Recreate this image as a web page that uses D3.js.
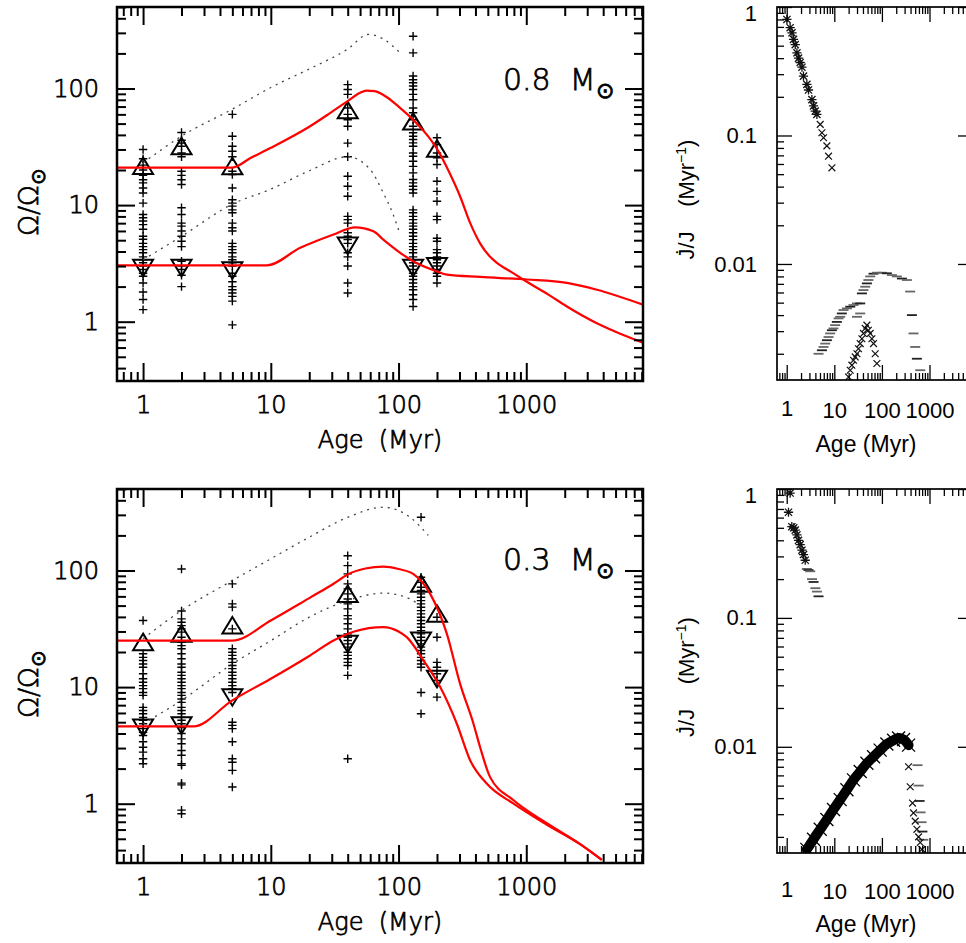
<!DOCTYPE html>
<html>
<head>
<meta charset="utf-8">
<script src="https://cdn.jsdelivr.net/npm/d3@7"></script>
<style>
  body { margin: 0; background: #fff; }
  .thin { stroke: #000; stroke-width: 0.75px; fill: #000; white-space: pre; }
</style>
</head>
<body>
<script>
/// data ///
// cluster ages (Myr) and observed rotation rates (Omega / Omega_sun), 0.8 Msun
const clusterAges08 = [1, 2, 5, 40, 130, 200];
const spins08 = [
  [30, 25, 22, 20, 18, 16.5, 15.5, 14, 12.7, 10.4, 8.3, 7.8, 7.3, 6.8, 6.2, 5.4, 5.1, 4.7, 4.4, 4.15, 3.9, 3.6, 3.4, 3.2, 3.0, 2.8, 2.6, 2.45, 2.15, 1.8, 1.55, 1.27],
  [42, 36, 34, 32, 28, 26, 19.5, 18, 16.5, 15, 9.5, 8.3, 7.0, 6.6, 6.0, 5.4, 4.9, 4.4, 3.3, 3.0, 2.8, 2.5, 2.0],
  [60, 39, 32, 29, 26, 19.5, 18.3, 14, 11.1, 10.4, 9.8, 9.1, 8.6, 7.0, 6.4, 6.0, 4.7, 4.4, 4.15, 3.9, 3.6, 3.4, 3.2, 3.0, 2.6, 2.45, 2.2, 2.0, 1.88, 1.76, 1.65, 1.5, 0.94],
  [108, 98, 89, 68, 60, 54, 47.5, 34, 26, 17.7, 14.5, 11.9, 8.0, 7.5, 7.0, 5.8, 5.4, 5.06, 4.7, 3.9, 3.6, 3.0, 2.15, 1.76],
  [281, 202, 128, 119, 112, 105, 98, 89, 80, 68, 62, 54, 47.5, 41.7, 39, 36.5, 34.2, 32, 28, 26.2, 23.8, 21.5, 18.9, 16.6, 15.5, 14.5, 13.6, 12.7, 9.1, 8.6, 8.0, 7.5, 7.0, 6.6, 6.2, 5.8, 5.4, 5.06, 4.7, 4.4, 4.15, 3.9, 3.6, 3.4, 3.2, 3.0, 2.8, 2.6, 2.45, 2.3, 2.15, 2.0, 1.88, 1.7, 1.55, 1.35],
  [37.8, 33, 28, 25.4, 22.3, 16, 13.1, 10.8, 8.0, 7.5, 5.2, 4.9, 4.15, 3.9, 3.6, 3.4, 3.2, 3.0, 2.8, 2.6, 2.45, 2.15]
];
const p90_08 = [21.6, 32, 21.5, 65, 52, 30.5];
const p25_08 = [2.9, 2.9, 2.76, 4.5, 2.9, 3.0];

// model curves 0.8 Msun
const fastAge08 = [0.625, 5, 7, 10, 20, 30, 40, 50, 56, 65, 80, 100, 130, 170, 205, 250, 303, 364, 435, 521, 589, 795, 1011, 1500, 2080, 3570, 5000, 8200];
const fastOm08 = [21, 21, 25.5, 31, 47, 63, 78, 92, 96, 95, 85, 70, 54, 39, 29, 19, 11.9, 7.0, 4.7, 3.6, 3.2, 2.6, 2.2, 1.7, 1.35, 0.97, 0.82, 0.66];
const slowAge08 = [0.625, 9.3, 17, 31, 45.7, 63.6, 76, 103, 130, 200, 239, 435, 1011, 2080, 3570, 8200];
const slowOm08 = [3.04, 3.04, 4.3, 5.6, 6.45, 5.96, 5.06, 3.9, 3.3, 2.7, 2.53, 2.42, 2.3, 2.15, 1.88, 1.4];
const coreFastAge08 = [1, 2, 5, 10, 20, 40, 58, 76, 103];
const coreFastOm08 = [23, 39, 66.5, 102, 147, 218, 291, 266, 202];
const coreSlowAge08 = [1, 2, 5, 10, 20, 40, 60, 76, 90, 103];
const coreSlowOm08 = [3.4, 5.4, 10.2, 13.7, 19.7, 26, 20.2, 12.7, 8.5, 5.6];

// 0.3 Msun
const clusterAges03 = [1, 2, 5, 40, 150, 200];
const spins03 = [
  [37.2, 19.3, 18, 16.9, 15.8, 14.8, 13, 11.8, 11, 10.3, 9.7, 9.0, 8.5, 6.7, 6.3, 5.9, 5.5, 5.2, 4.85, 4.4, 4.1, 3.85, 3.4, 3.05, 2.77, 2.43, 2.2],
  [103, 45, 38.5, 36, 33.7, 31.6, 29.6, 26.8, 24.3, 22.7, 21.3, 19.3, 17.5, 15.8, 14.8, 13.4, 12.6, 11.8, 11, 10.3, 9.7, 9.0, 8.5, 7.9, 7.4, 6.7, 6.3, 5.9, 5.5, 5.2, 4.85, 4.5, 4.0, 3.6, 3.27, 2.86, 2.6, 2.2, 2.13, 1.5, 1.45, 0.88, 0.82],
  [76.8, 51.7, 48.5, 31.6, 21.3, 19.9, 18.7, 17.5, 16.3, 15.3, 14.4, 13.4, 12.6, 11.8, 11, 10.3, 9.7, 9.0, 5.0, 4.7, 4.4, 3.4, 2.43, 2.27, 1.93, 1.39],
  [134, 110, 93.6, 76.8, 69.5, 63, 57, 51.7, 46.9, 41, 38.5, 34.9, 31.6, 28.6, 26.8, 25.1, 23.5, 22, 19.9, 18.7, 17.5, 16.3, 15.3, 12.6, 2.43],
  [286, 87.5, 79.3, 71.8, 67.3, 63, 59, 55.2, 51.7, 48.4, 45.3, 42.5, 39.7, 37.2, 34.9, 32.6, 30.5, 28.6, 26.8, 25.1, 23.5, 22, 20.6, 19.3, 18, 16.9, 15.8, 14.8, 9.0, 5.9],
  [39.7, 26.8, 16.3, 14.8, 13, 11.4, 8.2]
];
const p90_03 = [24.3, 28.7, 33.8, 63, 76.8, 42.5];
const p25_03 = [4.5, 4.7, 8.2, 23.5, 25.1, 11.8];

const fastAge03 = [0.625, 5, 10, 20, 31, 40, 55, 76, 100, 130, 177, 239, 303, 386, 435, 521, 795, 1450, 2640, 3900];
const fastOm03 = [25, 25, 37.3, 58, 77, 92.5, 104, 108, 103, 93.6, 63, 28.6, 10.7, 4.85, 3.05, 1.69, 1.07, 0.68, 0.45, 0.33];
const slowAge03 = [0.625, 2.48, 5, 10, 20, 31, 45, 76, 100, 116, 157, 212, 286, 364, 492, 795, 1450, 2640, 3900];
const slowOm03 = [4.6, 4.6, 7.7, 11.8, 18.5, 25.1, 30, 32.7, 30, 26.8, 16.9, 10, 4.85, 2.35, 1.48, 1.0, 0.66, 0.45, 0.33];
const coreFastAge03 = [1, 2, 5, 10, 20, 40, 76, 123, 171];
const coreFastOm03 = [26, 45.4, 82, 126, 193, 286, 349, 286, 200];
const coreSlowAge03 = [1, 2, 5, 10, 20, 40, 76, 123, 147];
const coreSlowOm03 = [4.85, 7.7, 15.8, 25, 39.8, 55.3, 64, 57, 50];

// angular momentum loss rate J-dot/J (Myr^-1), 0.8 Msun
const jStarAge08 = [1.01, 1.18, 1.29, 1.39, 1.51, 1.64, 1.77, 1.92, 2.09, 2.25, 2.65, 2.87, 3.38, 3.66, 3.97, 4.31];
const jStarVal08 = [0.80, 0.69, 0.63, 0.56, 0.51, 0.44, 0.40, 0.37, 0.34, 0.29, 0.25, 0.226, 0.19, 0.17, 0.155, 0.146];
const jCrossAge08 = [5.06, 5.49, 5.94, 6.98, 7.56, 8.92, 19.9, 21.6, 23.4, 25.3, 27.5, 29.9, 32.2, 35, 38, 41, 44.6, 48.4, 52, 56.8, 61.6, 66.7, 72.3, 78.5];
const jCrossVal08 = [0.122, 0.105, 0.096, 0.083, 0.069, 0.056, 0.00132, 0.00149, 0.00163, 0.00178, 0.00189, 0.0020, 0.00219, 0.0024, 0.00262, 0.00288, 0.00315, 0.00334, 0.00305, 0.00288, 0.00262, 0.0024, 0.0020, 0.00168];
const jDashAge08 = [4.66, 5.49, 5.93, 6.44, 6.98, 7.57, 8.2, 8.9, 9.6, 10.4, 11.3, 12.3, 13.3, 14.4, 15.6, 18.4, 21.6, 25.3, 29.9, 35, 29.9, 35, 38, 41, 44.6, 48.4, 52, 56.8, 66.7, 78.5, 100, 127, 162, 206, 263, 335, 393, 427, 461, 501, 543, 638];
const jDashVal08 = [0.0020, 0.00213, 0.00226, 0.0024, 0.00255, 0.0027, 0.00288, 0.00305, 0.00315, 0.00334, 0.00354, 0.00377, 0.00388, 0.00412, 0.00438, 0.00451, 0.00465, 0.00479, 0.00493, 0.00493, 0.00388, 0.00412, 0.0059, 0.00626, 0.00665, 0.00706, 0.0075, 0.008, 0.0084, 0.00855, 0.00855, 0.00846, 0.0082, 0.008, 0.0077, 0.0075, 0.0061, 0.0040, 0.00288, 0.00226, 0.00183, 0.00149];

// 0.3 Msun
const jStarAge03 = [1.18, 1.09, 1.28, 1.4, 1.51, 1.64, 1.77, 1.92, 2.09, 2.25, 2.45];
const jStarVal03 = [0.93, 0.66, 0.51, 0.5, 0.48, 0.44, 0.40, 0.37, 0.335, 0.31, 0.28];
const jDashAge03 = [2.65, 2.87, 3.12, 3.4, 3.66, 4.0, 4.31, 4.66, 560, 590, 620, 650, 680, 710, 740];
const jDashVal03 = [0.24, 0.235, 0.23, 0.2, 0.19, 0.17, 0.16, 0.147, 0.0072, 0.0050, 0.0038, 0.0031, 0.0026, 0.0022, 0.0019];
const jBandAge03 = [2.65, 3.66, 5.06, 6.98, 9.6, 13.3, 18.4, 25.3, 35, 48.4, 66.7, 92, 127, 176, 224, 285, 363];
const jBandVal03 = [0.0016, 0.00192, 0.00229, 0.00273, 0.00326, 0.00389, 0.00464, 0.00554, 0.00643, 0.00745, 0.00838, 0.00942, 0.0105, 0.01125, 0.0117, 0.0114, 0.0103];
const jCrossAge03 = [363, 393, 440, 461, 501, 543, 589, 638, 692];
const jCrossVal03 = [0.0070, 0.0049, 0.00366, 0.00307, 0.00265, 0.00229, 0.0020, 0.00181, 0.0016];

/// constants ///
const ageDomain = [0.625, 8200];
const omegaDomain = [0.31, 500];
const leftFont = "'DejaVu Sans', sans-serif";
const leftWeight = 200;
const rightFont = "'Liberation Sans', Arial, sans-serif";
const red = "#ff0000";

const svg = d3.select("body").append("svg")
  .attr("width", 966).attr("height", 943);

const isMajor = v => Math.abs(Math.log10(v) - Math.round(Math.log10(v))) < 1e-6;

// draw ticks on all four sides, pointing inwards, labels on bottom and left
function drawFrame(g, x, y, o) {
  const [xa, xb] = x.range();
  const [yb, ya] = y.range();
  const xt = x.ticks(), yt = y.ticks();
  const sides = [
    [d3.axisBottom, x, `translate(0,${yb})`, xt, true, o.xPad],
    [d3.axisTop, x, `translate(0,${ya})`, xt, false, 0],
    [d3.axisLeft, y, `translate(${xa},0)`, yt, true, o.yPad],
    [d3.axisRight, y, `translate(${xb},0)`, yt, false, 0]
  ];
  sides.forEach(([make, sc, tr, vals, labelled, pad]) => {
    // minor
    g.append("g").attr("transform", tr)
      .call(make(sc).tickValues(vals.filter(v => !isMajor(v))).tickSize(-o.minor).tickFormat(""))
      .call(a => a.select(".domain").remove())
      .call(a => a.selectAll("line").attr("stroke", "#000").attr("stroke-width", o.tickW));
    // major
    g.append("g").attr("transform", tr)
      .call(make(sc).tickValues(vals.filter(isMajor)).tickSize(-o.major).tickPadding(pad)
        .tickFormat(labelled ? (d => String(+d.toPrecision(3))) : ""))
      .call(a => a.select(".domain").remove())
      .call(a => a.selectAll("line").attr("stroke", "#000").attr("stroke-width", o.tickW))
      .call(a => a.selectAll("text")
        .attr("fill", "#000")
        .attr("class", o.cls)
        .attr("font-family", o.font)
        .attr("font-weight", o.weight)
        .attr("font-size", o.fontSize));
  });
  g.append("rect")
    .attr("x", xa).attr("y", ya)
    .attr("width", xb - xa).attr("height", yb - ya)
    .attr("fill", "none").attr("stroke", "#000").attr("stroke-width", o.frameW);
}

function plusPath(px, py, s) {
  return `M${px - s},${py}H${px + s}M${px},${py - s}V${py + s}`;
}
function crossPath(px, py, s) {
  return `M${px - s},${py - s}L${px + s},${py + s}M${px - s},${py + s}L${px + s},${py - s}`;
}

/// left panels: Omega / Omega_sun vs age ///
function omegaPanel(top, bottom, ages, spins, p90, p25, curves, dotted, massLabel, labelY) {
  const x = d3.scaleLog().domain(ageDomain).range([117, 643]);
  const y = d3.scaleLog().domain(omegaDomain).range([bottom, top]);
  const g = svg.append("g");

  // observed cluster stars
  const pts = [];
  ages.forEach((a, i) => spins[i].forEach(v => pts.push([a, v])));
  g.append("g").selectAll("path").data(pts).join("path")
    .attr("d", d => plusPath(x(d[0]), y(d[1]), 4.2))
    .attr("stroke", "#000").attr("stroke-width", 1.4).attr("fill", "none");

  // percentile triangles
  g.append("g").selectAll("path").data(ages.map((a, i) => [a, p90[i]])).join("path")
    .attr("d", d => {
      const px = x(d[0]), py = y(d[1]);
      return `M${px},${py - 8.5}L${px + 10},${py + 8}L${px - 10},${py + 8}Z`;
    })
    .attr("fill", "none").attr("stroke", "#000").attr("stroke-width", 2);
  g.append("g").selectAll("path").data(ages.map((a, i) => [a, p25[i]])).join("path")
    .attr("d", d => {
      const px = x(d[0]), py = y(d[1]);
      return `M${px - 10},${py - 8}L${px + 10},${py - 8}L${px},${py + 8.5}Z`;
    })
    .attr("fill", "none").attr("stroke", "#000").attr("stroke-width", 2);

  const line = d3.line().x(d => x(d[0])).y(d => y(d[1])).curve(d3.curveMonotoneX);
  const clip = "clip" + top;
  svg.append("clipPath").attr("id", clip).append("rect")
    .attr("x", 117).attr("y", top).attr("width", 526).attr("height", bottom - top);

  dotted.forEach(([ag, om]) => {
    g.append("path").datum(ag.map((a, i) => [a, om[i]]))
      .attr("d", line)
      .attr("fill", "none").attr("stroke", "#444").attr("stroke-width", 1.3)
      .attr("stroke-dasharray", "2 5");
  });
  curves.forEach(([ag, om]) => {
    g.append("path").datum(ag.map((a, i) => [a, om[i]]))
      .attr("d", line).attr("clip-path", `url(#${clip})`)
      .attr("fill", "none").attr("stroke", red).attr("stroke-width", 2.2);
  });

  drawFrame(g, x, y, { minor: 9, major: 18, tickW: 2, frameW: 2.5, font: leftFont, weight: leftWeight, cls: "thin", fontSize: 24, xPad: 15, yPad: 18 });

  // axis titles
  g.append("text").attr("class", "thin")
    .attr("x", 380).attr("y", bottom + 67)
    .attr("text-anchor", "middle")
    .attr("font-family", leftFont).attr("font-weight", leftWeight).attr("font-size", 24)
    .text("Age  (Myr)");
  const yl = g.append("text").attr("class", "thin")
    .attr("transform", `translate(38,${(top + bottom) / 2 + 8}) rotate(-90)`)
    .attr("text-anchor", "middle")
    .attr("font-family", leftFont).attr("font-weight", leftWeight).attr("font-size", 27);
  yl.append("tspan").text("Ω/Ω");
  yl.append("tspan").attr("dy", 7).attr("font-size", 20).text("⊙");

  // mass label
  const ml = g.append("text").attr("class", "thin")
    .attr("x", 503).attr("y", labelY)
    .attr("font-family", leftFont).attr("font-weight", leftWeight).attr("font-size", 30);
  ml.append("tspan").text(massLabel + "  M");
  ml.append("tspan").attr("dy", 8).attr("font-size", 22).text("⊙");
}

omegaPanel(7, 381, clusterAges08, spins08, p90_08, p25_08,
  [[fastAge08, fastOm08], [slowAge08, slowOm08]],
  [[coreFastAge08, coreFastOm08], [coreSlowAge08, coreSlowOm08]], "0.8", 90);
omegaPanel(489, 863, clusterAges03, spins03, p90_03, p25_03,
  [[fastAge03, fastOm03], [slowAge03, slowOm03]],
  [[coreFastAge03, coreFastOm03], [coreSlowAge03, coreSlowOm03]], "0.3", 570);

/// right panels: J-dot / J vs age (cut by the page edge) ///
function jdotPanel(top, bottom, yDomain, series, xPad, ageY) {
  const x = d3.scaleLog().domain(ageDomain).range([777, 973]);
  const y = d3.scaleLog().domain(yDomain).range([bottom, top]);
  const g = svg.append("g");
  const clip = "jclip" + top;
  svg.append("clipPath").attr("id", clip).append("rect")
    .attr("x", 777).attr("y", top).attr("width", 196).attr("height", bottom - top);
  const body = g.append("g").attr("clip-path", `url(#${clip})`);

  if (series.band) {
    const [ag, vv] = series.band;
    const pts = ag.map((a, i) => [a, vv[i]]);
    body.append("path").datum(pts)
      .attr("d", d3.line().x(d => x(d[0])).y(d => y(d[1])).curve(d3.curveMonotoneX))
      .attr("fill", "none").attr("stroke", "#000").attr("stroke-width", 10)
      .attr("stroke-linecap", "round");
    body.append("g").selectAll("path").data(pts).join("path")
      .attr("d", d => crossPath(x(d[0]), y(d[1]), 6.5))
      .attr("stroke", "#000").attr("stroke-width", 1.3);
  }
  if (series.dash) {
    const [ag, vv] = series.dash;
    body.append("g").selectAll("path").data(ag.map((a, i) => [a, vv[i]])).join("path")
      .attr("d", d => `M${x(d[0]) - 5},${y(d[1])}H${x(d[0]) + 5}`)
      .attr("stroke", (d, i) => i % 3 === 1 ? "#222" : "#666").attr("stroke-width", 1.8);
  }
  if (series.star) {
    const [ag, vv] = series.star;
    body.append("g").selectAll("path").data(ag.map((a, i) => [a, vv[i]])).join("path")
      .attr("d", d => crossPath(x(d[0]), y(d[1]), 3.6) + plusPath(x(d[0]), y(d[1]), 4.6))
      .attr("stroke", "#111").attr("stroke-width", 1.3).attr("fill", "none");
  }
  if (series.cross) {
    const [ag, vv] = series.cross;
    body.append("g").selectAll("path").data(ag.map((a, i) => [a, vv[i]])).join("path")
      .attr("d", d => crossPath(x(d[0]), y(d[1]), 3.4))
      .attr("stroke", "#111").attr("stroke-width", 1.2).attr("fill", "none");
  }

  drawFrame(g, x, y, { minor: 7, major: 15, tickW: 1.3, frameW: 1.7, font: rightFont, weight: 400, cls: null, fontSize: 22, xPad: xPad, yPad: 20 });
  // the "1" label sits at the very top of the frame; nudge it down like the original
  g.selectAll("text").filter(d => d === 1 && y(1) - top < 2).attr("dy", "0.62em");

  g.append("text")
    .attr("x", 866).attr("y", ageY)
    .attr("text-anchor", "middle")
    .attr("font-family", rightFont).attr("font-size", 23)
    .text("Age (Myr)");
  const yl = g.append("text")
    .attr("transform", `translate(694,${(top + bottom) / 2 + 6}) rotate(-90)`)
    .attr("text-anchor", "middle")
    .attr("font-family", rightFont).attr("font-size", 22)
    .style("white-space", "pre");
  yl.append("tspan").text("J\u0307/J    (Myr");
  yl.append("tspan").attr("dy", -8).attr("font-size", 14).text("−1");
  yl.append("tspan").attr("dy", 8).text(")");
}

jdotPanel(7, 380, [0.00125, 1], {
  dash: [jDashAge08, jDashVal08],
  star: [jStarAge08, jStarVal08],
  cross: [jCrossAge08, jCrossVal08]
}, 22, 452);
jdotPanel(489, 853, [0.0015, 1], {
  band: [jBandAge03, jBandVal03],
  dash: [jDashAge03, jDashVal03],
  star: [jStarAge03, jStarVal03],
  cross: [jCrossAge03, jCrossVal03]
}, 30, 932);
</script>
</body>
</html>
